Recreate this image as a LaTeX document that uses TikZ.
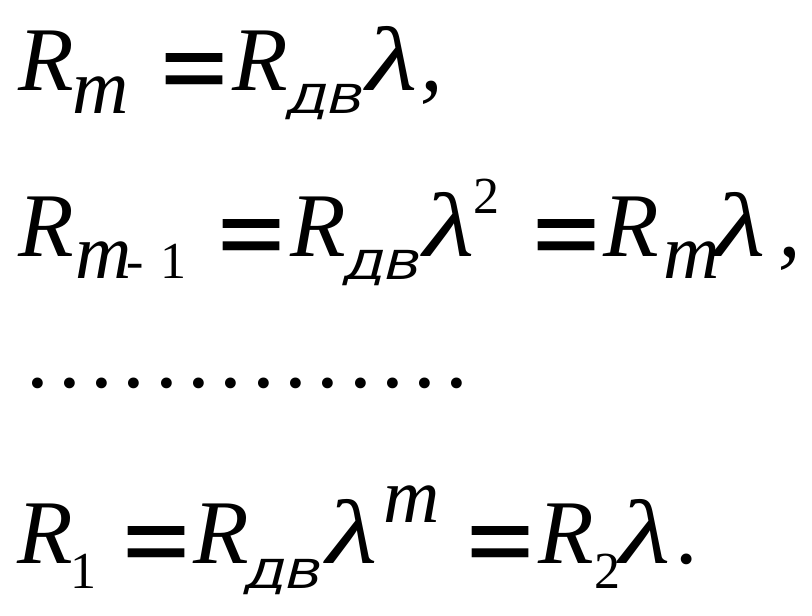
\documentclass[tikz,border=0pt]{standalone}
\usepackage{fontspec}
\setmainfont{Liberation Serif}
\newfontfamily\sansfam{Liberation Sans}
\newfontfamily\obliquefam{DejaVu Sans}
\usepackage{graphicx}

\tikzset{
  piece/.style={anchor=base west, inner sep=0pt, outer sep=0pt},
  bigR/.style={piece, font=\fontsize{91}{91}\selectfont\itshape},
  subm/.style={piece, font=\fontsize{78}{78}\selectfont\itshape},
  subdig/.style={piece, font=\fontsize{52}{52}\selectfont},
  subdv/.style={piece, font=\fontsize{40}{40}\selectfont\obliquefam\itshape},
  eqsign/.style={piece, font=\fontsize{91}{91}\selectfont\sansfam\bfseries},
}
\newcommand{\dvsub}{\scalebox{1.33}[1]{ДВ}}
\newcommand{\eqs}{\resizebox{66pt}{43pt}{=}}
\newcommand{\lam}{\scalebox{1.3}[1]{λ}}

\begin{document}
\begin{tikzpicture}[x=1pt, y=-1pt]
  \useasboundingbox (0,0) rectangle (812,616);

  % first line
  \node[bigR]   (ra1) at (18,90)   {R};
  \node[subm]   (ma1) at (72,113)  {m};
  \node[eqsign] (ea1) at (161,96)  {\eqs};
  \node[bigR]   (rb1) at (232,90)  {R};
  \node[subdv]  (da1) at (287,113) {\dvsub};
  \node[bigR]   (la1) at (366,90)  {\lam};
  \node[bigR]   (ca1) at (420,90)  {,};

  % second line
  \node[bigR]   (ra2) at (18,256)  {R};
  \node[subm]   (ma2) at (75,278)  {m};
  \node[subdig] (ha2) at (126,278) {-};
  \node[subdig] (oa2) at (160,278) {1};
  \node[eqsign] (ea2) at (218,262) {\eqs};
  \node[bigR]   (rb2) at (290,256) {R};
  \node[subdv]  (da2) at (344,279) {\dvsub};
  \node[bigR]   (la2) at (423,256) {\lam};
  \node[subdig] (pa2) at (473,213) {2};
  \node[eqsign] (eb2) at (533,262) {\eqs};
  \node[bigR]   (rc2) at (603,256) {R};
  \node[subm]   (mb2) at (663,278) {m};
  \node[bigR]   (lb2) at (714,256) {\lam};
  \node[bigR]   (ca2) at (778,256) {,};

  % dotted row
  \foreach \i in {0,...,13}
    \node[bigR, font=\fontsize{91}{91}\selectfont] (dot\i) at (26+32.3*\i,387) {.};

  % last line
  \node[bigR]   (ra3) at (17,563)  {R};
  \node[subdig] (oa3) at (70,588)  {1};
  \node[eqsign] (ea3) at (123,569) {\eqs};
  \node[bigR]   (rb3) at (193,563) {R};
  \node[subdv]  (da3) at (245,588) {\dvsub};
  \node[bigR]   (la3) at (326,563) {\lam};
  \node[subm]   (ma3) at (383,522) {m};
  \node[eqsign] (eb3) at (467,569) {\eqs};
  \node[bigR]   (rc3) at (538,563) {R};
  \node[subdig] (ta3) at (594,588) {2};
  \node[bigR]   (la4) at (619,563) {\lam};
  \node[bigR]   (pe3) at (677,563) {.};
\end{tikzpicture}
\end{document}
